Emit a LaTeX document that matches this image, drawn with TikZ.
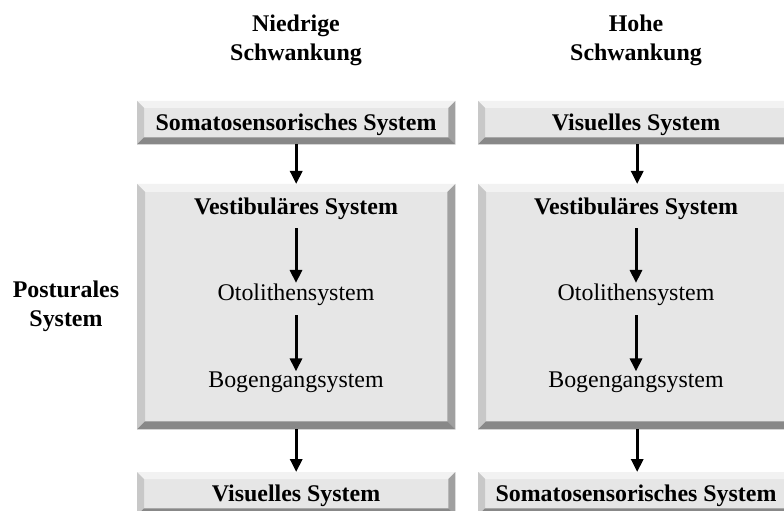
\documentclass[tikz,border=0pt]{standalone}
\usepackage{fontspec}
\setmainfont{Liberation Serif}
\usetikzlibrary{arrows.meta}
\definecolor{face}{HTML}{E6E6E6}
\definecolor{bevtop}{HTML}{F2F2F2}
\definecolor{bevleft}{HTML}{C8C8C8}
\definecolor{bevright}{HTML}{A0A0A0}
\definecolor{bevbottom}{HTML}{888888}
\tikzset{
  panel/.style={rectangle, fill=face, inner sep=0pt, anchor=north west},
  lbl/.style={font=\fontsize{24}{29}\selectfont\bfseries, align=center, inner sep=0pt},
  sub/.style={font=\fontsize{24}{29}\selectfont, inner sep=0pt},
  flow/.style={line width=3bp, -{Triangle[width=12bp,length=13bp]}},
}
% bevelled frame around a named panel node
\newcommand{\bevelframe}[2]{%
  \fill[bevtop] (#1.north west) -- (#1.north east) -- ([shift={(-#2,#2)}]#1.north east) -- ([shift={(#2,#2)}]#1.north west) -- cycle;
  \fill[bevleft] (#1.north west) -- ([shift={(#2,#2)}]#1.north west) -- ([shift={(#2,-#2)}]#1.south west) -- (#1.south west) -- cycle;
  \fill[bevright] (#1.north east) -- ([shift={(-#2,#2)}]#1.north east) -- ([shift={(-#2,-#2)}]#1.south east) -- (#1.south east) -- cycle;
  \fill[bevbottom] (#1.south west) -- ([shift={(#2,-#2)}]#1.south west) -- ([shift={(-#2,-#2)}]#1.south east) -- (#1.south east) -- cycle;
}
\begin{document}
\begin{tikzpicture}[x=1bp,y=-1bp]
\useasboundingbox[fill=white] (0,0) rectangle (784,511);
\clip (0,0) rectangle (784,511);

% column headings and side label
\node[lbl] (hlow) at (296,40) {Niedrige\\Schwankung};
\node[lbl] (hhigh) at (636,40) {Hohe\\Schwankung};
\node[lbl] (post) at (66,306) {Posturales\\System};

% left column
\node[panel, minimum width=318bp, minimum height=43bp] (ltop) at (137,101) {};
\node[panel, minimum width=318bp, minimum height=245bp] (lmid) at (137,184) {};
\node[panel, minimum width=318bp, minimum height=43bp] (lbot) at (137,472) {};
\bevelframe{ltop}{7}
\bevelframe{lmid}{8}
\bevelframe{lbot}{7}

% right column
\node[panel, minimum width=318bp, minimum height=43bp] (rtop) at (478,101) {};
\node[panel, minimum width=318bp, minimum height=245bp] (rmid) at (478,184) {};
\node[panel, minimum width=318bp, minimum height=43bp] (rbot) at (478,472) {};
\bevelframe{rtop}{7}
\bevelframe{rmid}{8}
\bevelframe{rbot}{7}

% texts, left
\node[lbl] (lts) at (296,125) {Somatosensorisches System};
\node[lbl] (lvest) at (296,209) {Vestibuläres System};
\node[sub] (loto) at (296,295) {Otolithensystem};
\node[sub] (lbog) at (296,382) {Bogengangsystem};
\node[lbl] (lbs) at (296,496) {Visuelles System};

% texts, right
\node[lbl] (rts) at (636,125) {Visuelles System};
\node[lbl] (rvest) at (636,209) {Vestibuläres System};
\node[sub] (roto) at (636,295) {Otolithensystem};
\node[sub] (rbog) at (636,382) {Bogengangsystem};
\node[lbl] (rbs) at (636,496) {Somatosensorisches System};

% arrows
\foreach \c in {l,r}{
  \draw[flow] (\c top.south) -- (\c mid.north);
  \draw[flow, shorten <=8bp, shorten >=1bp] (\c vest.south) -- (\c oto.north);
  \draw[flow, shorten <=9bp, shorten >=0bp] (\c oto.south) -- (\c bog.north);
  \draw[flow] (\c mid.south) -- (\c bot.north);
}
\end{tikzpicture}
\end{document}
